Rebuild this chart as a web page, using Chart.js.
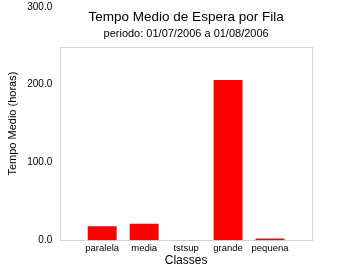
<!DOCTYPE html>
<html lang="pt">
  <head>
    <meta charset="UTF-8" />
    <title>Tempo Medio de Espera por Fila</title>
    <script src="https://cdn.jsdelivr.net/npm/chart.js"></script>
    <style>
      body { margin: 0; background: #fff; }
      #box { width: 362px; height: 280px; }
    </style>
  </head>
  <body>
    <div id="box"><canvas id="filaChart" width="362" height="280"></canvas></div>
    <script>
      // categorias (com posicoes vazias nas pontas, como no original)
      const classes = ["", "paralela", "media", "tstsup", "grande", "pequena", ""];
      const tempoMedio = [null, 17.8, 21.2, 0.3, 206, 2.3, null];
      const yTicks = [0, 100, 200, 300];
      const frameTop = 248; // topo da moldura do grafico (em horas)

      const titulo = "Tempo Medio de Espera por Fila";
      const subtitulo = "periodo: 01/07/2006 a 01/08/2006";

      const fontFamily = "'Liberation Sans', Arial, sans-serif";

      const framePlugin = {
        id: "frame",
        beforeDatasetsDraw(chart) {
          const { ctx, chartArea, scales } = chart;
          const top = scales.y.getPixelForValue(frameTop);
          ctx.save();
          ctx.strokeStyle = "#d4d4d4";
          ctx.lineWidth = 1;
          ctx.strokeRect(
            Math.round(chartArea.left) + 0.5,
            Math.round(top) + 0.5,
            Math.round(chartArea.right - chartArea.left),
            Math.round(chartArea.bottom - top)
          );
          ctx.restore();
        },
        afterDraw(chart) {
          const { ctx, chartArea } = chart;
          const cx = (chartArea.left + chartArea.right) / 2;
          ctx.save();
          ctx.fillStyle = "#000";
          ctx.textAlign = "center";
          ctx.textBaseline = "middle";
          ctx.font = "13.5px " + fontFamily;
          ctx.fillText(titulo, cx, 17);
          ctx.font = "11px " + fontFamily;
          ctx.fillText(subtitulo, cx, 34);
          ctx.restore();
        },
      };

      new Chart(document.getElementById("filaChart"), {
        type: "bar",
        data: {
          labels: classes,
          datasets: [
            {
              data: tempoMedio,
              backgroundColor: "#ff0000",
              borderWidth: 0,
              categoryPercentage: 1,
              barPercentage: 0.69,
            },
          ],
        },
        options: {
          responsive: false,
          animation: false,
          layout: {
            padding: { left: 6, right: 50, top: 7, bottom: 12 },
          },
          plugins: {
            legend: { display: false },
            tooltip: { enabled: false },
          },
          scales: {
            x: {
              offset: false,
              grid: { display: false, drawTicks: false },
              border: { display: false },
              ticks: {
                color: "#000",
                font: { family: fontFamily, size: 9.5 },
                padding: 2,
                maxRotation: 0,
                autoSkip: false,
              },
              title: {
                display: true,
                text: "Classes",
                color: "#000",
                font: { family: fontFamily, size: 12 },
                padding: { top: -2, bottom: 0 },
              },
            },
            y: {
              min: 0,
              max: 300,
              afterBuildTicks(axis) {
                axis.ticks = yTicks.map((v) => ({ value: v }));
              },
              afterFit(axis) {
                axis.paddingTop = 0;
              },
              grid: { display: false, drawTicks: false },
              border: { display: false },
              ticks: {
                color: "#000",
                font: { family: fontFamily, size: 10 },
                padding: 8,
                callback: (v) => v.toFixed(1),
              },
              title: {
                display: true,
                text: "Tempo Medio (horas)",
                color: "#000",
                font: { family: fontFamily, size: 11 },
                padding: { top: 0, bottom: 0 },
              },
            },
          },
        },
        plugins: [framePlugin],
      });
    </script>
  </body>
</html>
